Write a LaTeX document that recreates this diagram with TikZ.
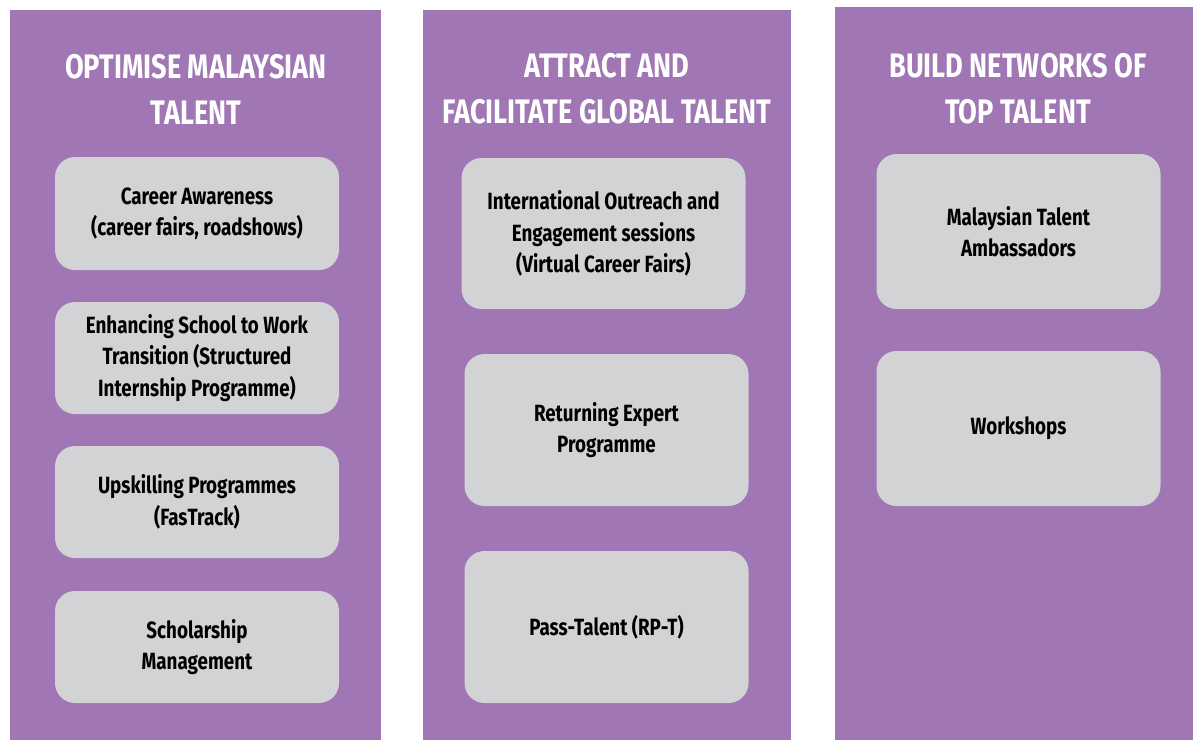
\documentclass[tikz,border=0pt]{standalone}
\usepackage{fontspec}
\setmainfont{Fira Sans}[FakeStretch=0.8]
\definecolor{pillarpurple}{HTML}{A076B4}
\definecolor{boxgray}{HTML}{D1D3D4}
\tikzset{
  pillar/.style={fill=pillarpurple, inner sep=0pt, anchor=north west},
  title/.style={text=white, align=center, font=\bfseries\fontsize{34}{46}\selectfont},
  item/.style={fill=boxgray, rounded corners=20pt, inner sep=0pt, minimum width=284pt, align=center, font=\bfseries\fontsize{23.5}{31.5}\selectfont}
}
\begin{document}
\begin{tikzpicture}[x=1pt,y=-1pt]
\useasboundingbox (0,0) rectangle (1193,740);
\node[pillar, minimum width=371pt, minimum height=730pt] (p1) at (10,10) {};
\node[pillar, minimum width=368pt, minimum height=730pt] (p2) at (423,10) {};
\node[pillar, minimum width=358pt, minimum height=733pt] (p3) at (835,7) {};

\node[title] (t1) at (196,89) {OPTIMISE MALAYSIAN\\TALENT};
\node[title] (t2) at (607,89) {ATTRACT AND\\FACILITATE GLOBAL TALENT};
\node[title] (t3) at (1018,89) {BUILD NETWORKS OF\\TOP TALENT};

\node[item, minimum height=113pt] (a1) at (197,213.5) {Career Awareness\\(career fairs, roadshows)};
\node[item, minimum height=112pt] (a2) at (197,358) {Enhancing School to Work\\Transition (Structured\\Internship Programme)};
\node[item, minimum height=112pt] (a3) at (197,502) {Upskilling Programmes\\(FasTrack)};
\node[item, minimum height=112pt] (a4) at (197,647) {Scholarship\\Management};

\node[item, minimum height=151pt] (b1) at (603.5,233.5) {International Outreach and\\Engagement sessions\\(Virtual Career Fairs)};
\node[item, minimum height=152pt] (b2) at (606.5,430) {Returning Expert\\Programme};
\node[item, minimum height=152pt] (b3) at (606.5,627) {Pass-Talent (RP-T)};

\node[item, minimum height=155pt] (c1) at (1018.5,231.5) {Malaysian Talent\\Ambassadors};
\node[item, minimum height=155pt] (c2) at (1018.5,428.5) {Workshops};
\end{tikzpicture}
\end{document}
